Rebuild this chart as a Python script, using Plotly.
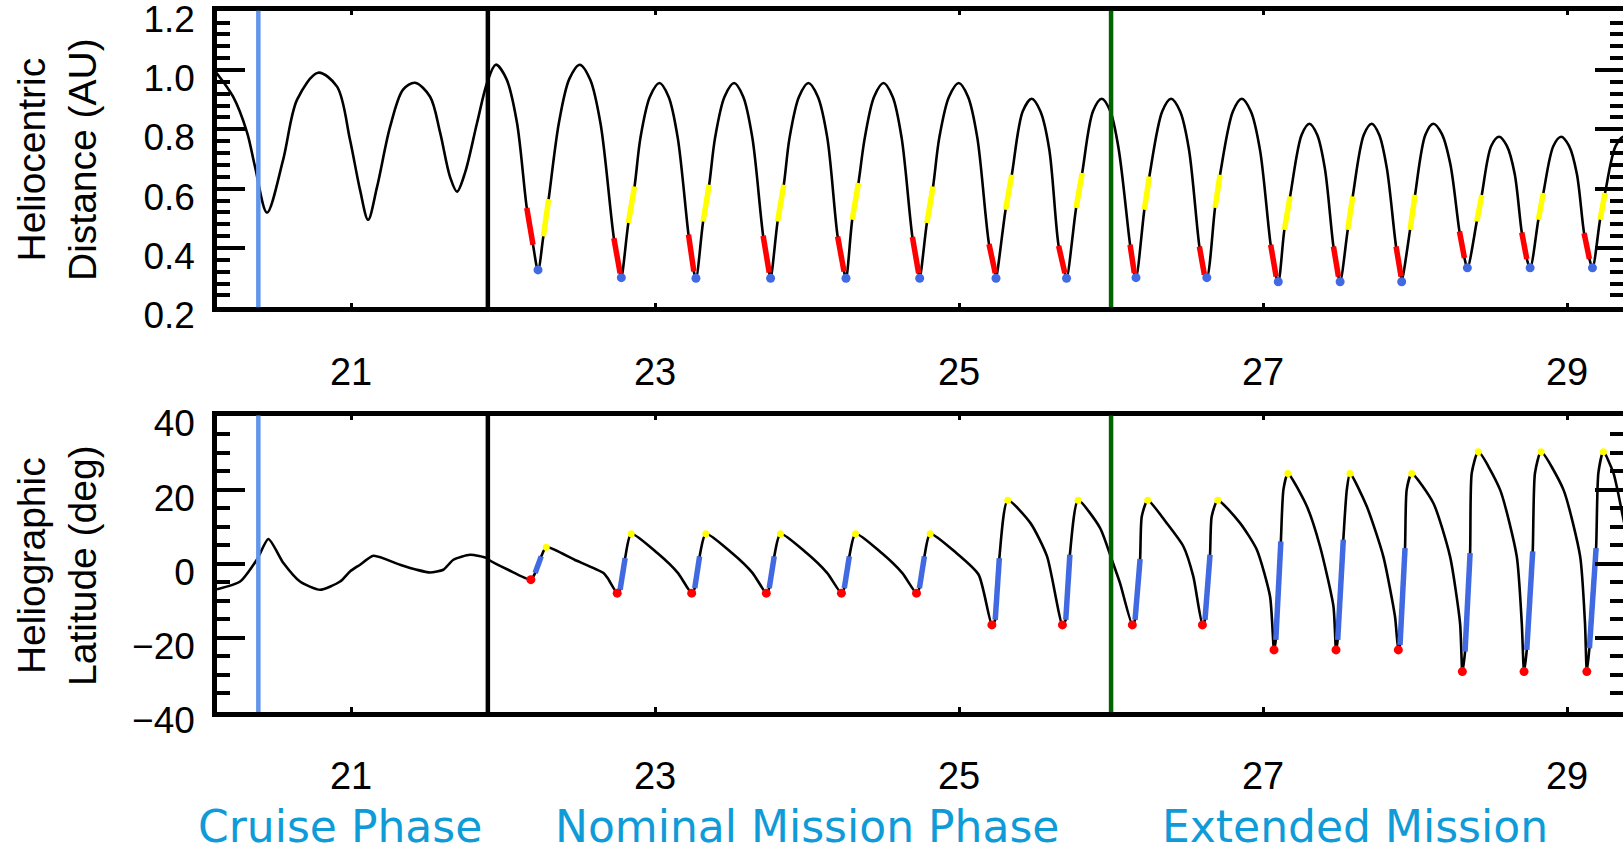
import plotly.graph_objects as go

# ---------------- data ----------------
# Heliocentric distance (AU) vs year (20xx)
t_dist = [20.10, 20.224, 20.316, 20.368, 20.447, 20.553, 20.645, 20.783, 20.908, 20.993,
          21.059, 21.112, 21.171, 21.257, 21.342, 21.421, 21.520, 21.586, 21.651, 21.697,
          21.750, 21.829, 21.895, 21.952,
          22.022, 22.091, 22.156, 22.197, 22.230, 22.265, 22.300, 22.368, 22.436, 22.505,
          22.573, 22.642, 22.729, 22.770, 22.778, 22.824, 22.865, 22.904, 22.966, 23.029,
          23.089, 23.149, 23.220, 23.255, 23.269, 23.316, 23.356, 23.395, 23.457, 23.520,
          23.580, 23.640, 23.711, 23.751, 23.760, 23.806, 23.847, 23.885, 23.947, 24.009,
          24.071, 24.133, 24.201, 24.243, 24.256, 24.297, 24.338, 24.380, 24.441, 24.503,
          24.563, 24.622, 24.693, 24.734, 24.741, 24.788, 24.829, 24.870, 24.934, 24.998,
          25.059, 25.120, 25.197, 25.238, 25.243, 25.306, 25.347, 25.419, 25.478,
          25.535, 25.593, 25.655, 25.696, 25.707, 25.770, 25.810, 25.881, 25.939,
          25.995, 26.050, 26.125, 26.153, 26.164, 26.219, 26.252, 26.337, 26.395,
          26.454, 26.512, 26.581, 26.614, 26.630, 26.684, 26.717, 26.802, 26.860,
          26.920, 26.980, 27.050, 27.086, 27.100, 27.140, 27.178, 27.254, 27.305,
          27.356, 27.406, 27.463, 27.496, 27.507, 27.557, 27.590, 27.663, 27.715,
          27.764, 27.814, 27.875, 27.908, 27.912, 27.967, 28.000, 28.068, 28.120,
          28.176, 28.232, 28.292, 28.325, 28.344, 28.406, 28.439, 28.501, 28.553,
          28.604, 28.655, 28.702, 28.735, 28.757, 28.811, 28.844, 28.910, 28.961,
          29.013, 29.064, 29.112, 29.147, 29.167, 29.217, 29.250, 29.320, 29.375, 29.430]
r_dist = [1.000, 0.910, 0.789, 0.674, 0.519, 0.697, 0.900, 0.991, 0.944, 0.765,
          0.596, 0.495, 0.606, 0.809, 0.934, 0.957, 0.910, 0.789, 0.640, 0.590,
          0.654, 0.822, 0.957, 1.018,
          0.970, 0.824, 0.535, 0.411, 0.326, 0.439, 0.565, 0.824, 0.970, 1.018,
          0.968, 0.817, 0.433, 0.315, 0.300, 0.484, 0.607, 0.772, 0.910, 0.956,
          0.910, 0.772, 0.445, 0.321, 0.298, 0.489, 0.613, 0.772, 0.910, 0.956,
          0.910, 0.772, 0.441, 0.317, 0.298, 0.489, 0.613, 0.772, 0.910, 0.956,
          0.910, 0.772, 0.439, 0.321, 0.298, 0.495, 0.619, 0.772, 0.910, 0.956,
          0.910, 0.772, 0.437, 0.315, 0.298, 0.484, 0.607, 0.772, 0.910, 0.956,
          0.910, 0.772, 0.413, 0.315, 0.298, 0.529, 0.647, 0.861, 0.903,
          0.861, 0.734, 0.407, 0.315, 0.298, 0.535, 0.653, 0.861, 0.903,
          0.861, 0.734, 0.411, 0.315, 0.300, 0.529, 0.641, 0.861, 0.903,
          0.861, 0.734, 0.405, 0.310, 0.300, 0.535, 0.647, 0.861, 0.903,
          0.860, 0.730, 0.411, 0.304, 0.286, 0.461, 0.574, 0.782, 0.819,
          0.782, 0.670, 0.405, 0.304, 0.286, 0.461, 0.574, 0.782, 0.819,
          0.782, 0.670, 0.405, 0.304, 0.286, 0.461, 0.579, 0.782, 0.819,
          0.785, 0.683, 0.456, 0.366, 0.333, 0.489, 0.579, 0.744, 0.775,
          0.744, 0.651, 0.452, 0.363, 0.333, 0.495, 0.585, 0.744, 0.775,
          0.744, 0.651, 0.450, 0.363, 0.333, 0.495, 0.585, 0.744, 0.775, 0.744]

# red segments (approach to perihelion) on distance curve
red_t0 = [22.156, 22.729, 23.220, 23.711, 24.201, 24.693, 25.197, 25.655,
          26.125, 26.581, 27.050, 27.463, 27.875, 28.292, 28.702, 29.112]
red_t1 = [22.197, 22.770, 23.255, 23.751, 24.243, 24.734, 25.238, 25.696,
          26.153, 26.614, 27.086, 27.496, 27.908, 28.325, 28.735, 29.147]
red_r0 = [0.535, 0.433, 0.445, 0.441, 0.439, 0.437, 0.413, 0.407,
          0.411, 0.405, 0.411, 0.405, 0.405, 0.456, 0.452, 0.450]
red_r1 = [0.411, 0.315, 0.321, 0.317, 0.321, 0.315, 0.315, 0.315,
          0.315, 0.310, 0.304, 0.304, 0.304, 0.366, 0.363, 0.363]
# yellow segments (after perihelion)
yel_t0 = [22.265, 22.824, 23.316, 23.806, 24.297, 24.788, 25.306, 25.770,
          26.219, 26.684, 27.140, 27.557, 27.967, 28.406, 28.811, 29.217]
yel_t1 = [22.300, 22.865, 23.356, 23.847, 24.338, 24.829, 25.347, 25.810,
          26.252, 26.717, 27.178, 27.590, 28.000, 28.439, 28.844, 29.250]
yel_r0 = [0.439, 0.484, 0.489, 0.489, 0.495, 0.484, 0.529, 0.535,
          0.529, 0.535, 0.461, 0.461, 0.461, 0.489, 0.495, 0.495]
yel_r1 = [0.565, 0.607, 0.613, 0.613, 0.619, 0.607, 0.647, 0.653,
          0.641, 0.647, 0.574, 0.574, 0.579, 0.579, 0.585, 0.585]
# perihelia (blue dots)
peri_t = [22.230, 22.778, 23.269, 23.760, 24.256, 24.741, 25.243, 25.707,
          26.164, 26.630, 27.100, 27.507, 27.912, 28.344, 28.757, 29.167]
peri_r = [0.326, 0.300, 0.298, 0.298, 0.298, 0.298, 0.298, 0.298,
          0.300, 0.300, 0.286, 0.286, 0.286, 0.333, 0.333, 0.333]

# Heliographic latitude (deg) vs year
t_lat = [20.118, 20.270, 20.380, 20.456, 20.555, 20.664, 20.796, 20.928, 20.993, 21.059,
         21.147, 21.322, 21.432, 21.520, 21.607, 21.673, 21.783, 21.893,
         21.905, 22.033, 22.183, 22.211, 22.251, 22.284, 22.470, 22.661, 22.688,
         22.751, 22.770, 22.803, 22.843, 23.015, 23.151,
         23.241, 23.261, 23.293, 23.334, 23.506, 23.642,
         23.732, 23.751, 23.784, 23.825, 23.997, 24.133,
         24.226, 24.245, 24.278, 24.319, 24.491, 24.627,
         24.720, 24.739, 24.772, 24.810, 24.982, 25.129,
         25.216, 25.238, 25.265, 25.320, 25.470, 25.579,
         25.680, 25.702, 25.729, 25.783, 25.928, 26.005, 26.059,
         26.140, 26.158, 26.191, 26.202, 26.241, 26.366, 26.476, 26.541,
         26.601, 26.618, 26.651, 26.662, 26.702, 26.849, 26.959, 27.046,
         27.072, 27.084, 27.117, 27.134, 27.163, 27.288, 27.375, 27.463,
         27.480, 27.491, 27.528, 27.551, 27.572, 27.682, 27.791, 27.868,
         27.890, 27.901, 27.934, 27.945, 27.978, 28.120, 28.230, 28.296,
         28.311, 28.329, 28.362, 28.373, 28.416, 28.559, 28.669, 28.702,
         28.717, 28.735, 28.774, 28.789, 28.829, 28.976, 29.086, 29.118,
         29.130, 29.147, 29.191, 29.206, 29.239, 29.305, 29.367, 29.420]
lat = [-6.9, -4.8, 1.08, 6.67, 0.18, -4.8, -7.03, -4.8, -2.08, -0.27,
       2.16, -0.27, -1.62, -2.35, -1.62, 1.08, 2.43, 1.53,
       1.08, -1.62, -4.3, -2.5, 1.98, 4.48, 1.08, -2.52, -3.87,
       -7.93, -7.03, 1.53, 8.1, 2.89, -2.52,
       -7.93, -6.58, 1.98, 8.1, 2.89, -2.52,
       -7.93, -6.58, 1.98, 8.1, 2.89, -2.52,
       -7.93, -6.58, 1.98, 8.1, 2.89, -2.52,
       -7.93, -6.58, 1.98, 8.1, 2.89, -2.97,
       -16.5, -15.1, 1.53, 17.1, 10.96, 1.98,
       -16.5, -15.1, 2.43, 17.1, 9.64, 1.08, -5.23,
       -16.5, -15.1, 1.26, 12.76, 17.1, 10.96, 4.66, -3.42,
       -16.5, -15.1, 2.43, 12.76, 17.1, 10.96, 3.78, -8.83,
       -23.25, -20.55, 6.0, 20.0, 24.32, 15.5, 4.66, -11.5,
       -23.25, -20.55, 6.49, 20.0, 24.32, 15.5, 1.98, -14.25,
       -23.25, -21.9, 4.2, 20.0, 24.32, 16.4, 1.98, -16.06,
       -29.1, -23.7, 2.88, 24.5, 30.2, 20.0, 1.98, -16.06,
       -29.1, -23.25, 3.33, 24.5, 30.2, 20.0, 1.98, -16.06,
       -29.1, -22.8, 4.2, 24.5, 30.2, 24.5, 12.76, 2.0]

lat_red_t = [22.183, 22.751, 23.241, 23.732, 24.226, 24.720, 25.216, 25.680,
             26.140, 26.601, 27.072, 27.480, 27.890, 28.311, 28.717, 29.130]
lat_red = [-4.3, -7.93, -7.93, -7.93, -7.93, -7.93, -16.5, -16.5,
           -16.5, -16.5, -23.25, -23.25, -23.25, -29.1, -29.1, -29.1]
blue_t0 = [22.211, 22.770, 23.261, 23.751, 24.245, 24.739, 25.238, 25.702,
           26.158, 26.618, 27.084, 27.491, 27.901, 28.329, 28.735, 29.147]
blue_t1 = [22.251, 22.803, 23.293, 23.784, 24.278, 24.772, 25.265, 25.729,
           26.191, 26.651, 27.117, 27.528, 27.934, 28.362, 28.774, 29.191]
blue_l0 = [-2.5, -7.03, -6.58, -6.58, -6.58, -6.58, -15.1, -15.1,
           -15.1, -15.1, -20.55, -20.55, -21.9, -23.7, -23.25, -22.8]
blue_l1 = [1.98, 1.53, 1.98, 1.98, 1.98, 1.98, 1.53, 2.43,
           1.26, 2.43, 6.0, 6.49, 4.2, 2.88, 3.33, 4.2]
lat_yel_t = [22.284, 22.843, 23.334, 23.825, 24.319, 24.810, 25.320, 25.783,
             26.241, 26.702, 27.163, 27.572, 27.978, 28.416, 28.829, 29.239]
lat_yel = [4.48, 8.1, 8.1, 8.1, 8.1, 8.1, 17.1, 17.1,
           17.1, 17.1, 24.32, 24.32, 24.32, 30.2, 30.2, 30.2]

# mission phase boundaries (year)
phase_boundaries = [20.39, 21.90, 26.00]
phase_names = ["Cruise Phase", "Nominal Mission Phase", "Extended Mission"]

x_ticks = [21, 23, 25, 27, 29]
dist_ticks = [0.2, 0.4, 0.6, 0.8, 1.0, 1.2]
lat_ticks = [-40, -20, 0, 20, 40]

# ---------------- styling ----------------
boundary_colors = ["#6495ED", "#000000", "#006400"]
FONT = "Liberation Sans, Arial, Helvetica, sans-serif"
W, H = 1623, 847
L = 217


def segments(x0, x1, y0, y1):
    xs, ys = [], []
    for a, b, c, d in zip(x0, x1, y0, y1):
        xs += [a, b, None]
        ys += [c, d, None]
    return xs, ys


fig = go.Figure()

# top panel
fig.add_trace(go.Scatter(x=t_dist, y=r_dist, mode="lines",
                         line=dict(color="black", width=2.6, shape="spline", smoothing=0.9),
                         xaxis="x", yaxis="y", hoverinfo="skip"))
rx, ry = segments(red_t0, red_t1, red_r0, red_r1)
fig.add_trace(go.Scatter(x=rx, y=ry, mode="lines", line=dict(color="#ff0000", width=5.5),
                         xaxis="x", yaxis="y"))
yx, yy = segments(yel_t0, yel_t1, yel_r0, yel_r1)
fig.add_trace(go.Scatter(x=yx, y=yy, mode="lines", line=dict(color="#ffff00", width=5.5),
                         xaxis="x", yaxis="y"))
fig.add_trace(go.Scatter(x=peri_t, y=peri_r, mode="markers",
                         marker=dict(color="#4169e1", size=9, line=dict(width=0)),
                         xaxis="x", yaxis="y"))

# bottom panel
fig.add_trace(go.Scatter(x=t_lat, y=lat, mode="lines",
                         line=dict(color="black", width=2.6, shape="spline", smoothing=0.6),
                         xaxis="x2", yaxis="y2", hoverinfo="skip"))
bx, by = segments(blue_t0, blue_t1, blue_l0, blue_l1)
fig.add_trace(go.Scatter(x=bx, y=by, mode="lines", line=dict(color="#4169e1", width=5.5),
                         xaxis="x2", yaxis="y2"))
fig.add_trace(go.Scatter(x=lat_red_t, y=lat_red, mode="markers",
                         marker=dict(color="#ff0000", size=9, line=dict(width=0)),
                         xaxis="x2", yaxis="y2"))
fig.add_trace(go.Scatter(x=lat_yel_t, y=lat_yel, mode="markers",
                         marker=dict(color="#ffff00", size=7, line=dict(width=0)),
                         xaxis="x2", yaxis="y2"))

# phase boundary lines
for xb, col in zip(phase_boundaries, boundary_colors):
    for xr, yr in (("x", "y domain"), ("x2", "y2 domain")):
        fig.add_shape(type="line", x0=xb, x1=xb, y0=0, y1=1, xref=xr, yref=yr,
                      line=dict(color=col, width=4.5), layer="above")

xrange = [20.118, 29.368]
xcommon = dict(range=xrange, tickmode="array", tickvals=x_ticks,
               ticks="inside", ticklen=5, tickwidth=3, tickcolor="black",
               showline=True, linewidth=4.5, linecolor="black", mirror="ticks",
               showgrid=False, zeroline=False, automargin=False,
               tickfont=dict(family=FONT, size=38, color="black"),
               ticklabelstandoff=27, ticklabeloverflow="allow")
ycommon = dict(ticks="inside", ticklen=28, tickwidth=4, tickcolor="black",
               showline=True, linewidth=4.5, linecolor="black", mirror="ticks",
               showgrid=False, zeroline=False, automargin=False,
               tickfont=dict(family=FONT, size=37, color="black"),
               ticklabelstandoff=10, ticklabelshift=8, ticklabeloverflow="allow")

top_dom = [1 - 307.3 / H, 1 - 10.7 / H]
bot_dom = [1 - 712.0 / H, 1 - 415.5 / H]

fig.update_layout(
    width=W, height=H,
    margin=dict(l=L, r=0, t=0, b=0, autoexpand=False),
    paper_bgcolor="white", plot_bgcolor="white",
    showlegend=False,
    xaxis=dict(anchor="y", domain=[0, 1], **xcommon),
    xaxis2=dict(anchor="y2", domain=[0, 1], **xcommon),
    yaxis=dict(anchor="x", domain=top_dom, range=[0.2, 1.2], tickmode="array",
               tickvals=dist_ticks, tickformat=".1f",
               minor=dict(dtick=0.04, tick0=0.2, ticks="inside", ticklen=13, tickwidth=4,
                          tickcolor="black", showgrid=False),
               **ycommon),
    yaxis2=dict(anchor="x2", domain=bot_dom, range=[-40, 40], tickmode="array",
                tickvals=lat_ticks,
                minor=dict(dtick=5, tick0=0, ticks="inside", ticklen=13, tickwidth=4,
                           tickcolor="black", showgrid=False),
                **ycommon),
)

# axis titles (rotated, two lines)
for text, ypx in (("Heliocentric<br>Distance (AU)", 160), ("Heliographic<br>Latitude (deg)", 566)):
    fig.add_annotation(text=text, xref="paper", yref="paper",
                       x=(57 - L) / (W - L), y=1 - ypx / H, xanchor="center", yanchor="middle",
                       textangle=-90, showarrow=False,
                       font=dict(family=FONT, size=39, color="black"))

# phase labels
for name, xpx in zip(phase_names, [340, 807, 1355]):
    fig.add_annotation(text=name, xref="paper", yref="paper",
                       x=(xpx - L) / (W - L), y=1 - 826 / H, xanchor="center", yanchor="middle",
                       showarrow=False,
                       font=dict(family="DejaVu Sans, Verdana, sans-serif", size=44, color="#0f9bd7"))

fig.write_html("out.html")
